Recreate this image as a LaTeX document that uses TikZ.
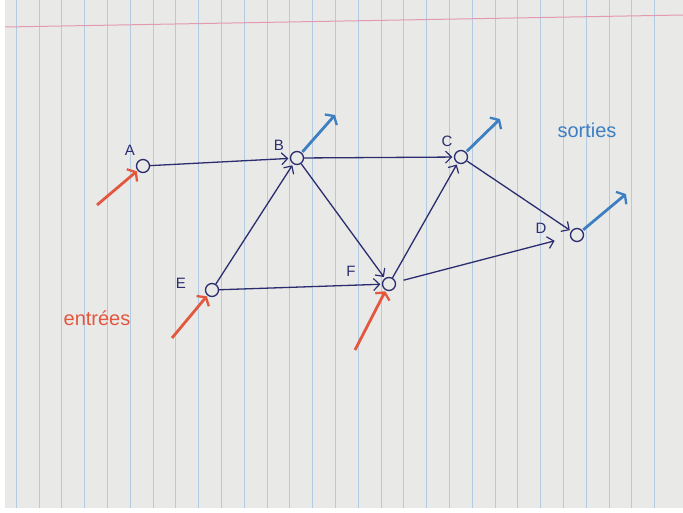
\documentclass[tikz,border=0pt]{standalone}
\usepackage{fontspec}
\setmainfont{Liberation Sans}
\usetikzlibrary{arrows.meta}
\definecolor{navy}{HTML}{2B2D6E}
\definecolor{inred}{HTML}{E4573F}
\definecolor{outblue}{HTML}{3D7FC1}
\definecolor{paper}{HTML}{E9E9E8}
\definecolor{rule}{HTML}{B3CBE0}
\definecolor{margin}{HTML}{E39AAE}
\tikzset{
  pt/.style={circle, draw=navy, line width=1.3pt, minimum size=13pt, inner sep=0pt},
  lbl/.style={text=navy, font=\fontsize{15}{15}\selectfont},
  edge/.style={draw=navy, line width=1.3pt, -{Straight Barb[length=6pt,width=12pt,line width=1.2pt]}, shorten >=1.5pt},
  inp/.style={draw=inred, line width=2.8pt, -{Straight Barb[length=5pt,width=16pt,line width=2.3pt]}, shorten >=1pt},
  outp/.style={draw=outblue, line width=2.8pt, -{Straight Barb[length=5pt,width=16pt,line width=2.3pt]}, shorten <=1pt},
}
\begin{document}
\begin{tikzpicture}[x=1pt,y=-1pt]
\useasboundingbox (0,0) rectangle (683,512);
\fill[white] (0,0) rectangle (683,512);
\fill[paper] (5,0) rectangle (683,508);
\foreach \k in {0,...,28} {
  \draw[rule, line width=0.55pt] ({16+22.8*\k},0) -- ({16+22.8*\k},508);
}
\draw[margin, line width=1pt] (5,27) -- (683,15);

% nodes
\node[pt] (A) at (143,166) {};
\node[pt] (B) at (297,158) {};
\node[pt] (C) at (461,157) {};
\node[pt] (D) at (577,235) {};
\node[pt] (E) at (212,290) {};
\node[pt] (F) at (389,284) {};
\node[lbl] (lA) at (130,150) {A};
\node[lbl] (lB) at (279,145) {B};
\node[lbl] (lC) at (447,141) {C};
\node[lbl] (lD) at (541,228) {D};
\node[lbl] (lE) at (181,283) {E};
\node[lbl] (lF) at (351,271) {F};

% edges
\draw[edge] (A) -- (B);
\draw[edge] (B) -- (C);
\draw[edge] (E) -- (B);
\draw[edge] (B) -- (F);
\draw[edge] (F) -- (C);
\draw[edge] (C) -- (D);
\draw[edge] (E) -- (F);
\draw[edge, shorten >=16pt, shorten <=8pt] (F) -- (D);

% inputs
\coordinate (iA) at (97,205);
\coordinate (iE) at (172,338);
\coordinate (iF) at (355,350);
\draw[inp] (iA) -- (A);
\draw[inp] (iE) -- (E);
\draw[inp] (iF) -- (F);

% outputs
\coordinate (oB) at (335,115);
\coordinate (oC) at (500,119);
\coordinate (oD) at (626,194);
\draw[outp] (B) -- (oB);
\draw[outp] (C) -- (oC);
\draw[outp] (D) -- (oD);

\node[text=inred, font=\fontsize{20}{20}\selectfont] (tin) at (97,318) {entrées};
\node[text=outblue, font=\fontsize{20}{20}\selectfont] (tout) at (587,130) {sorties};
\end{tikzpicture}
\end{document}
